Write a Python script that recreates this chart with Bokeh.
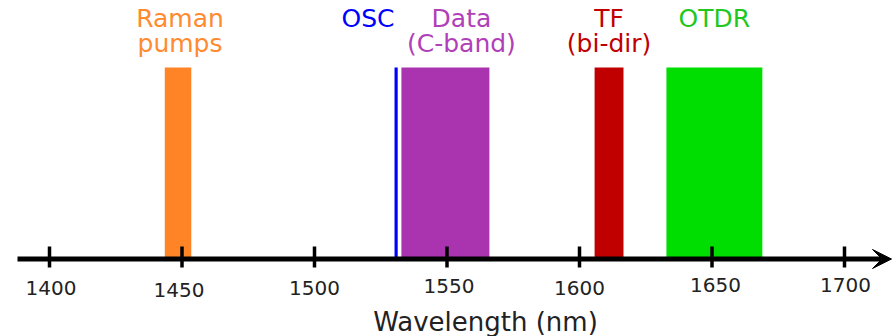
from bokeh.plotting import figure
from bokeh.models import Range1d, ColumnDataSource, Arrow, VeeHead
from bokeh.core.properties import value
from bokeh.embed import file_html
from bokeh.resources import INLINE

# ---- data ----
band_names_1 = ["Raman", "OSC", "Data", "TF", "OTDR"]
band_names_2 = ["pumps", "", "(C-band)", "(bi-dir)", ""]
band_start = [1443.5, 1530.2, 1532.8, 1605.7, 1632.8]
band_end = [1453.5, 1531.4, 1566.0, 1616.6, 1669.0]
tick_values = [1400, 1450, 1500, 1550, 1600, 1650, 1700]
tick_labels = ["1400", "1450", "1500", "1550", "1600", "1650", "1700"]
axis_title = "Wavelength (nm)"

# ---- styles ----
band_colors = ["#ff8426", "#0000ff", "#aa33b0", "#c00000", "#00dd00"]
text_colors = ["#ff8a30", "#0000ff", "#b040b8", "#c00000", "#1ec81e"]
label_align = ["center", "right", "center", "center", "center"]
label_dx = [2, 0, 16, 0, 0]  # pixel offsets of band labels
tick_label_dx = [1.5, -3, 0, 2, 0, 3.5, 1]  # pixel nudges of tick labels (screen px)
tick_label_dy = [0.5, 2.5, 0.5, -1.2, 0.2, -2.8, -2.8]  # positive = down

W, H = 894, 336
PX_PER_NM = 2.65
X0_PX = 49  # pixel of 1400 nm
AXIS_PX_Y = 258.5
PX_PER_UNIT = 191.5


def X(px):
    return 1400 + (px - X0_PX) / PX_PER_NM


def Y(py):
    return (AXIS_PX_Y - py) / PX_PER_UNIT


p = figure(width=W, height=H, output_backend="svg", toolbar_location=None,
           x_range=Range1d(X(0), X(W)), y_range=Range1d(Y(H), Y(0)),
           min_border=0, outline_line_color=None,
           x_axis_location=None, y_axis_location=None)
p.grid.visible = False
p.background_fill_color = "white"
p.border_fill_color = "white"

centers = [(a + b) / 2 for a, b in zip(band_start, band_end)]
label_x = [band_start[i] if label_align[i] == "right" else centers[i] for i in range(len(centers))]
src = ColumnDataSource(dict(left=band_start, right=band_end, color=band_colors,
                            tcolor=text_colors, x=label_x, l1=band_names_1, l2=band_names_2,
                            align=label_align, dx=label_dx))

p.quad(left="left", right="right", bottom=0, top=1, fill_color="color",
       line_color=None, source=src)

font = value("DejaVu Sans")
p.text(x="x", y=Y(18), text="l1", text_color="tcolor", text_align="align",
       x_offset="dx", text_baseline="middle", text_font=font,
       text_font_size="25px", source=src)
p.text(x="x", y=Y(43), text="l2", text_color="tcolor", text_align="align",
       x_offset="dx", text_baseline="middle", text_font=font,
       text_font_size="25px", source=src)

# axis line with arrow head
p.add_layout(Arrow(x_start=X(17), y_start=0, x_end=X(891), y_end=0,
                   line_width=5, line_color="black",
                   end=VeeHead(size=19, fill_color="black", line_color="black", line_width=1)))

# ticks
p.segment(x0=tick_values, x1=tick_values, y0=Y(246), y1=Y(267),
          line_color="black", line_width=3.5)
tsrc = ColumnDataSource(dict(x=tick_values, t=tick_labels, dx=tick_label_dx,
                             dy=tick_label_dy))
p.text(x="x", y=Y(287), text="t", x_offset="dx", y_offset="dy", source=tsrc,
       text_align="center", text_baseline="middle", text_font=font,
       text_font_size="20px", text_color="#222222")
p.text(x=[X(485)], y=[Y(321)], text=[axis_title], text_align="center",
       text_baseline="middle", text_font=font, text_font_size="26px",
       text_color="#222222")

open("out.html", "w").write(file_html(p, INLINE))
